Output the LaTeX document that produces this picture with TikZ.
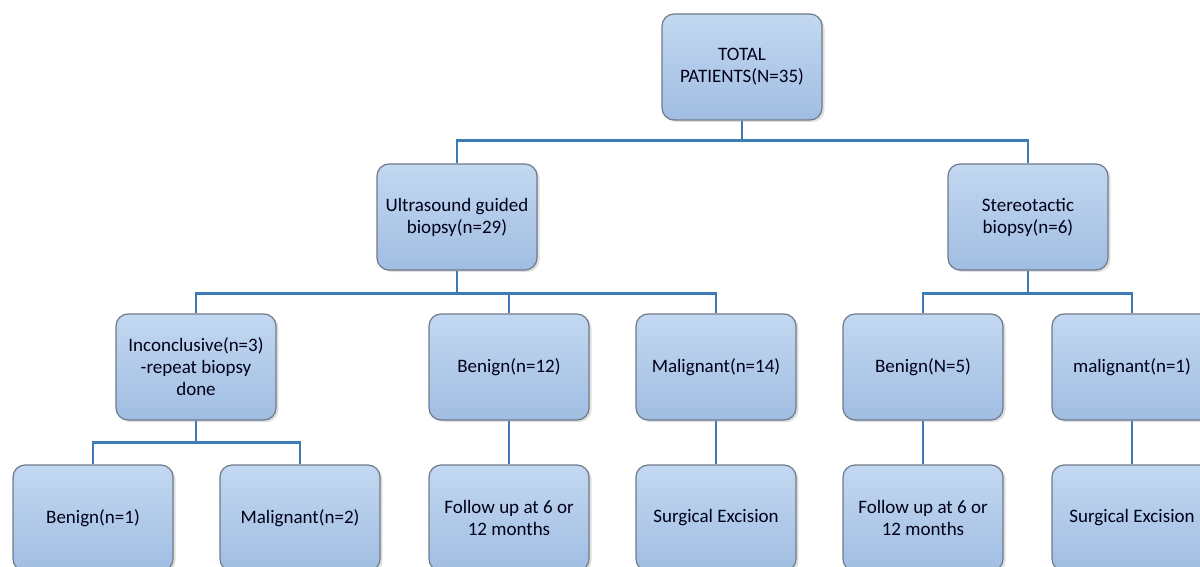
\documentclass[tikz,border=0pt]{standalone}
\usepackage{fontspec}
\setmainfont{Carlito}
\usepackage{tikz}
\usetikzlibrary{positioning, shadows}

\definecolor{boxtop}{HTML}{C3D8F1}
\definecolor{boxbot}{HTML}{A0BDE2}
\definecolor{boxline}{HTML}{6E7A8A}
\definecolor{linkblue}{HTML}{3C7BB6}

\tikzset{
  box/.style={draw=boxline, line width=1.2pt, rounded corners=12pt,
    top color=boxtop, bottom color=boxbot,
    minimum width=160pt, minimum height=106pt, align=center,
    font=\fontsize{19}{22}\selectfont, text=black!90!blue,
    drop shadow={shadow xshift=2.5pt, shadow yshift=-2pt, opacity=0.25}},
  link/.style={draw=linkblue, line width=2.6pt}
}

\begin{document}
\begin{tikzpicture}[x=1pt,y=-1pt]
  \useasboundingbox (0,0) rectangle (1200,567);
  \clip (0,0) rectangle (1200,567);

  % first two levels
  \node[box] (total) at (742,67) {TOTAL\\PATIENTS(N=35)};
  \node[box] (us) at (457,217) {Ultrasound guided\\biopsy(n=29)};
  \node[box] (st) at (1028,217) {Stereotactic\\biopsy(n=6)};

  % results of biopsy
  \node[box] (inc) at (196,367) {Inconclusive(n=3)\\-repeat biopsy\\done};
  \node[box] (ben) at (509,367) {Benign(n=12)};
  \node[box] (mal) at (716,367) {Malignant(n=14)};
  \node[box] (stben) at (923,367) {Benign(N=5)};
  \node[box] (stmal) at (1132,367) {malignant(n=1)};

  % outcome
  \node[box] (incben) at (93,518) {Benign(n=1)};
  \node[box] (incmal) at (300,518) {Malignant(n=2)};
  \node[box] (fup) at (509,518) {Follow up at 6 or\\12 months};
  \node[box] (exc) at (716,518) {Surgical Excision};
  \node[box] (stfup) at (923,518) {Follow up at 6 or\\12 months};
  \node[box] (stexc) at (1132,518) {Surgical Excision};

  \draw[link] (total.south) -- ++(0,20) -| (us.north);
  \draw[link] (total.south) -- ++(0,20) -| (st.north);

  \draw[link] (us.south) -- ++(0,23) -| (inc.north);
  \draw[link] (us.south) -- ++(0,23) -| (ben.north);
  \draw[link] (us.south) -- ++(0,23) -| (mal.north);

  \draw[link] (st.south) -- ++(0,23) -| (stben.north);
  \draw[link] (st.south) -- ++(0,23) -| (stmal.north);

  \draw[link] (inc.south) -- ++(0,22) -| (incben.north);
  \draw[link] (inc.south) -- ++(0,22) -| (incmal.north);

  \draw[link] (ben.south) -- (fup.north);
  \draw[link] (mal.south) -- (exc.north);
  \draw[link] (stben.south) -- (stfup.north);
  \draw[link] (stmal.south) -- (stexc.north);
\end{tikzpicture}
\end{document}
